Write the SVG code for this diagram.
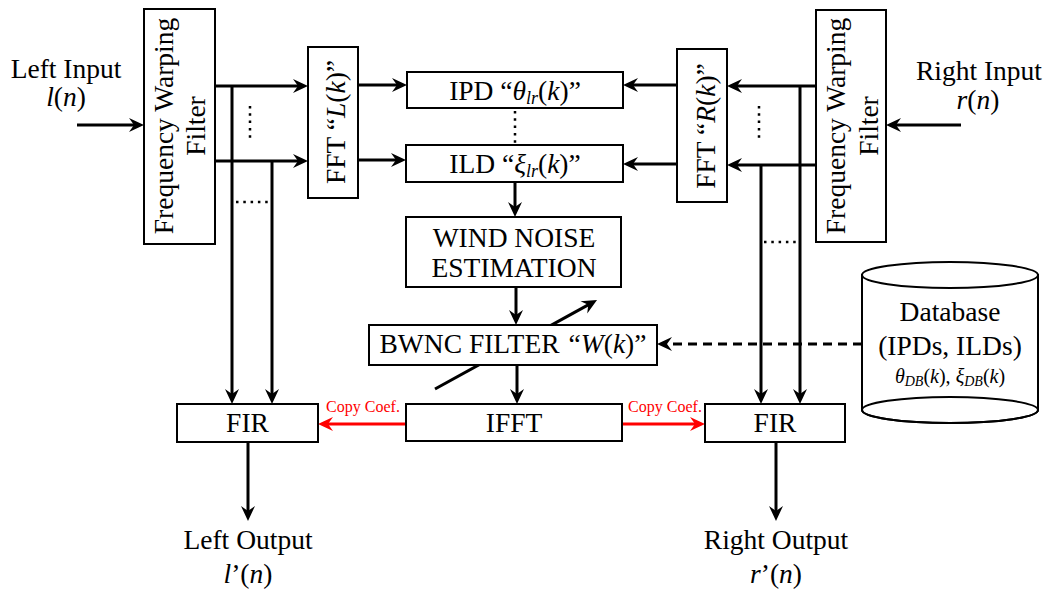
<svg xmlns="http://www.w3.org/2000/svg" width="1049" height="590" viewBox="0 0 1049 590">
<style>
text{font-family:"Liberation Serif","Times New Roman",serif;font-size:27.5px;fill:#000;text-anchor:middle}
.i{font-style:italic}
.box{fill:#fff;stroke:#000;stroke-width:2}
.ln{fill:none;stroke:#000;stroke-width:3}
.red{fill:none;stroke:#f00;stroke-width:3}
.dot{fill:none;stroke:#000;stroke-width:2.5;stroke-dasharray:2.5 4.8}
.dash{fill:none;stroke:#000;stroke-width:3;stroke-dasharray:9 6}
.cc{font-size:16px;fill:#f00}
.sm{font-size:20px}
</style>
<defs>
<marker id="ah" viewBox="-8 -8 17 16" markerWidth="17" markerHeight="16" refX="0" refY="0" orient="auto" markerUnits="userSpaceOnUse"><path d="M8,0 L-7,-7 L-2,0 L-7,7 Z" fill="#000"/></marker>
<marker id="ahr" viewBox="-8 -8 17 16" markerWidth="17" markerHeight="16" refX="0" refY="0" orient="auto" markerUnits="userSpaceOnUse"><path d="M8,0 L-7,-7 L-2,0 L-7,7 Z" fill="#f00"/></marker>
</defs>
<g id="connectors">
<line class="ln" x1="77" y1="125" x2="136" y2="125" marker-end="url(#ah)"/>
<line class="ln" x1="215" y1="86" x2="300" y2="86" marker-end="url(#ah)"/>
<line class="ln" x1="215" y1="161" x2="300" y2="161" marker-end="url(#ah)"/>
<line class="ln" x1="232" y1="86" x2="232" y2="396" marker-end="url(#ah)"/>
<line class="ln" x1="272" y1="161" x2="272" y2="396" marker-end="url(#ah)"/>
<line class="ln" x1="358" y1="85" x2="399" y2="85" marker-end="url(#ah)"/>
<line class="ln" x1="358" y1="160" x2="398" y2="160" marker-end="url(#ah)"/>
<line class="ln" x1="677" y1="85" x2="631" y2="85" marker-end="url(#ah)"/>
<line class="ln" x1="677" y1="164" x2="631" y2="164" marker-end="url(#ah)"/>
<line class="ln" x1="816" y1="86" x2="735" y2="86" marker-end="url(#ah)"/>
<line class="ln" x1="816" y1="165" x2="735" y2="165" marker-end="url(#ah)"/>
<line class="ln" x1="800" y1="86" x2="800" y2="396" marker-end="url(#ah)"/>
<line class="ln" x1="761" y1="165" x2="761" y2="396" marker-end="url(#ah)"/>
<line class="ln" x1="961" y1="125" x2="894" y2="125" marker-end="url(#ah)"/>
<line class="ln" x1="515" y1="182" x2="515" y2="209" marker-end="url(#ah)"/>
<line class="ln" x1="516" y1="287" x2="516" y2="317" marker-end="url(#ah)"/>
<line class="ln" x1="517" y1="365" x2="517" y2="396" marker-end="url(#ah)"/>
<line class="ln" x1="435" y1="389" x2="590" y2="303.9" marker-end="url(#ah)"/>
<line class="red" x1="406" y1="424" x2="326" y2="424" marker-end="url(#ahr)"/>
<line class="red" x1="622" y1="424" x2="697" y2="424" marker-end="url(#ahr)"/>
<line class="dash" x1="862" y1="344" x2="665" y2="344" marker-end="url(#ah)"/>
<line class="ln" x1="248" y1="442" x2="248" y2="513" marker-end="url(#ah)"/>
<line class="ln" x1="776" y1="442" x2="776" y2="513" marker-end="url(#ah)"/>
<line class="dot" x1="250" y1="106" x2="250" y2="138"/>
<line class="dot" x1="236" y1="202" x2="270" y2="202"/>
<line class="dot" x1="759" y1="106" x2="759" y2="138"/>
<line class="dot" x1="764" y1="242" x2="798" y2="242"/>
<line class="dot" x1="515" y1="111" x2="515" y2="143"/>
<text class="cc" x="363" y="412">Copy Coef.</text>
<text class="cc" x="665" y="412">Copy Coef.</text>
</g>
<g id="left-input">
<text x="66" y="78">Left Input</text>
<text x="66" y="106"><tspan class="i">l</tspan>(<tspan class="i">n</tspan>)</text>
</g>
<g id="right-input">
<text x="979" y="80">Right Input</text>
<text x="978" y="109"><tspan class="i">r</tspan>(<tspan class="i">n</tspan>)</text>
</g>
<g id="fw-left">
<rect class="box" x="144" y="9" width="71" height="235"/>
<text transform="translate(173,126) rotate(-90)">Frequency Warping</text>
<text transform="translate(205,126) rotate(-90)">Filter</text>
</g>
<g id="fw-right">
<rect class="box" x="816" y="10" width="70" height="232"/>
<text transform="translate(845,126) rotate(-90)">Frequency Warping</text>
<text transform="translate(878,126) rotate(-90)">Filter</text>
</g>
<g id="fft-left">
<rect class="box" x="308" y="47" width="50" height="151"/>
<text transform="translate(345,122) rotate(-90)">FFT “<tspan class="i">L</tspan>(<tspan class="i">k</tspan>)”</text>
</g>
<g id="fft-right">
<rect class="box" x="677" y="49" width="50" height="153"/>
<text transform="translate(715,126) rotate(-90)">FFT “<tspan class="i">R</tspan>(<tspan class="i">k</tspan>)”</text>
</g>
<g id="ipd">
<rect class="box" x="407" y="72" width="216" height="36"/>
<text x="515" y="100">IPD “<tspan class="i">θ</tspan><tspan class="i" font-size="18" dy="4">lr</tspan><tspan dy="-4">(</tspan><tspan class="i">k</tspan>)”</text>
</g>
<g id="ild">
<rect class="box" x="406" y="145" width="217" height="37"/>
<text x="515" y="173">ILD “<tspan class="i">ξ</tspan><tspan class="i" font-size="18" dy="4">lr</tspan><tspan dy="-4">(</tspan><tspan class="i">k</tspan>)”</text>
</g>
<g id="wind-noise">
<rect class="box" x="406" y="217" width="215" height="70"/>
<text x="514" y="247">WIND NOISE</text>
<text x="514" y="277">ESTIMATION</text>
</g>
<g id="bwnc">
<rect class="box" x="369" y="325" width="288" height="40"/>
<text x="513" y="353">BWNC FILTER<tspan dx="9">“</tspan><tspan class="i">W</tspan>(<tspan class="i">k</tspan>)”</text>
</g>
<g id="ifft">
<rect class="box" x="406" y="404" width="216" height="37"/>
<text x="514" y="432">IFFT</text>
</g>
<g id="fir-left">
<rect class="box" x="177" y="404" width="141" height="38"/>
<text x="247.5" y="432">FIR</text>
</g>
<g id="fir-right">
<rect class="box" x="705" y="404" width="140" height="38"/>
<text x="775" y="432">FIR</text>
</g>
<g id="database">
<path d="M862,275 L862,410 A88,13 0 0 0 1038,410 L1038,275 Z" fill="#fff" stroke="#000" stroke-width="2"/>
<ellipse cx="950" cy="275" rx="88" ry="13" fill="#fff" stroke="#000" stroke-width="2"/>
<ellipse cx="950" cy="410" rx="88" ry="13" fill="none" stroke="#000" stroke-width="2"/>
<text x="950" y="321">Database</text>
<text x="950" y="355">(IPDs, ILDs)</text>
<text class="sm" x="950" y="383"><tspan class="i">θ</tspan><tspan class="i" font-size="14" dy="3">DB</tspan><tspan dy="-3">(</tspan><tspan class="i">k</tspan>), <tspan class="i">ξ</tspan><tspan class="i" font-size="14" dy="3">DB</tspan><tspan dy="-3">(</tspan><tspan class="i">k</tspan>)</text>
</g>
<g id="left-output">
<text x="248" y="549">Left Output</text>
<text x="248" y="583"><tspan class="i">l</tspan>’(<tspan class="i">n</tspan>)</text>
</g>
<g id="right-output">
<text x="776" y="549">Right Output</text>
<text x="776" y="583"><tspan class="i">r</tspan>’(<tspan class="i">n</tspan>)</text>
</g>
</svg>
